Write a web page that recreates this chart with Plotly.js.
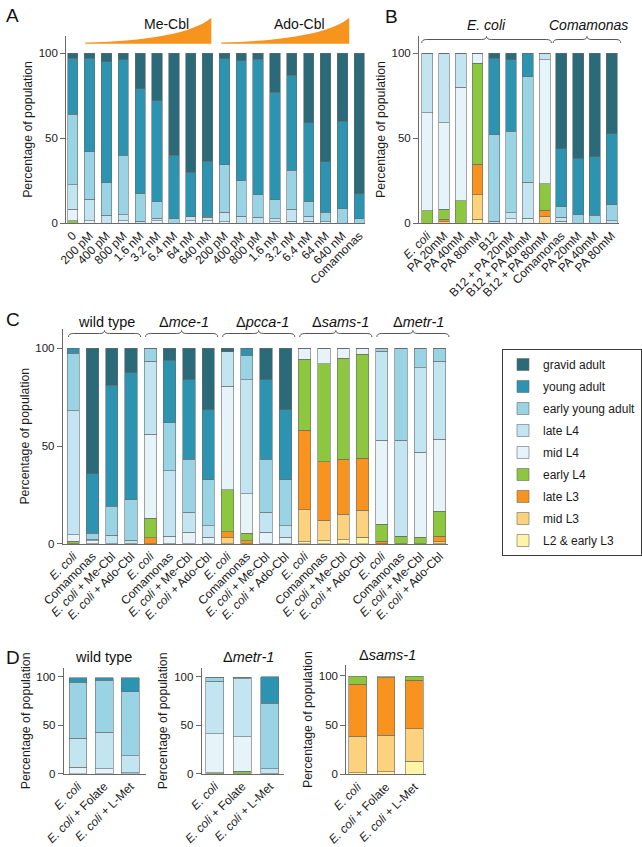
<!DOCTYPE html>
<html><head><meta charset="utf-8">
<script src="https://cdn.plot.ly/plotly-3.0.1.min.js"></script>
<style>html,body{margin:0;padding:0;background:#fff}#chart{width:642px;height:847px}</style>
</head><body><div id="chart"></div>
<script>
// ---------- stages (bottom -> top of each stack) ----------
const stages = ["L2 & early L3","mid L3","late L3","early L4","mid L4","late L4","early young adult","young adult","gravid adult"];
const stageColors = ["#fff3a6","#fdd27e","#f7931e","#8dc63f","#e6f4fa","#c3e5f2","#9ad3e4","#2c94b0","#2b6a78"];

// ---------- Panel A ----------
const A_labels = ["0","200 pM","400 pM","800 pM","1.6 nM","3.2 nM","6.4 nM","64 nM","640 nM","200 pM","400 pM","800 pM","1.6 nM","3.2 nM","6.4 nM","64 nM","640 nM","Comamonas"];
const A_earlyL4 = [1.2,0,0,0,0,0,0,0,0,0,0,0,0,0,0,0,0,0];
const A_midL4   = [6.8,1.4,0,1.2,0,1.2,0,1.4,1.4,0.8,0,0,0.6,1,1,0.8,0,0];
const A_lateL4  = [14.5,12.6,4.7,3.8,1.0,1.6,0,2.7,1.9,5.5,3.9,3.3,2.0,7.0,3.1,0,0,0];
const A_earlyYA = [41.5,28,18.9,35,16.3,9.8,2.6,0,0.8,28.1,21.1,13.2,11,23,8.3,5.5,8.3,2.6];
const A_YA      = [33,55,71.4,56,61.7,59.4,37.4,25.9,32.2,62.3,70.3,79.8,63.4,56,46.6,29.7,51.7,14.7];
const A_gravid  = [3,3,5,4,21,28,60,70,63.7,3.3,4.7,3.7,23,13,41,64,40,82.7];

// ---------- Panel B ----------
const B_labels = ["<i>E. coli</i>","PA 20mM","PA 40mM","PA 80mM","B12","B12 + PA 20mM","B12 + PA 40mM","B12 + PA 80mM","Comamonas","PA 20mM","PA 40mM","PA 80mM"];
const B_L2      = [0,0,0,2.2,0,0,0,0,0,0,0,0];
const B_midL3   = [0,0.8,0,14.3,0,0,0,4,0,0,0,0];
const B_lateL3  = [0,1.4,0,18.1,0,0,0,3.5,0,0,0,0];
const B_earlyL4 = [7.3,5.8,13.2,59.4,0,0,0,15.5,0,0,0,0];
const B_midL4   = [57.7,51,66.8,6,0,2.5,2.8,73,1,0,0,0];
const B_lateL4  = [35,41,20,0,1,3.5,21.2,4,2.5,0,0,1.2];
const B_earlyYA = [0,0,0,0,51,48,62,0,6.1,5,4.7,9.6];
const B_YA      = [0,0,0,0,45,42,14,0,34.2,33,34.3,41.7];
const B_gravid  = [0,0,0,0,3,4,0,0,56.2,62,61,47.5];

// ---------- Panel C ----------
const C_groups = ["wild type","Δ<i>mce-1</i>","Δ<i>pcca-1</i>","Δ<i>sams-1</i>","Δ<i>metr-1</i>"];
const C_conditions = ["<i>E. coli</i>","Comamonas","<i>E. coli</i> + Me-Cbl","<i>E. coli</i> + Ado-Cbl"];
const C_L2      = [0,0,0,0, 0,0,0,0, 0,0,0,0, 1.0,1.5,1.9,3.2, 0,0,0,0];
const C_midL3   = [0,0,0,0, 0,0,0,0, 3.1,0,0,0, 16.5,10.5,13.1,13.8, 0,0,0,0.9];
const C_lateL3  = [0,0,0,0, 3.1,0,0,0, 3.0,1.5,0,0, 40.5,30,28.2,26.7, 1.2,0,0,3];
const C_earlyL4 = [1.2,0,0,0, 9.9,0,0,0, 21.5,3.8,0,0, 36.4,50,51.8,53.3, 8.7,3.9,3.2,12.7];
const C_midL4   = [3.4,1.4,0,0, 43,3.9,5.8,3.2, 53,20.3,5.8,3.2, 5.6,8,5,3, 43,0,43.6,36.8];
const C_lateL4  = [63.4,1.0,4.3,1.7, 37.3,33.5,10.2,6, 17.7,58.4,10.2,6, 0,0,0,0, 45.6,49,43.2,39.9];
const C_earlyYA = [29.4,2.9,14.8,20.7, 6.7,24.6,27.3,23.6, 0,12.4,27.3,23.6, 0,0,0,0, 1.5,47.1,10,6.7];
const C_YA      = [2.6,30.5,61.9,65.1, 0,32,40.7,35.8, 0,3.6,40.7,35.8, 0,0,0,0, 0,0,0,0];
const C_gravid  = [0,64.2,19,12.5, 0,6,16,31.4, 1.7,0,16,31.4, 0,0,0,0, 0,0,0,0];

// ---------- Panel D ----------
const D_labels = ["<i>E. coli</i>","<i>E. coli</i> + Folate","<i>E. coli</i> + L-Met"];
const D_titles = ["wild type","Δ<i>metr-1</i>","Δ<i>sams-1</i>"];
const DW_midL4   = [6.5,5,1];
const DW_lateL4  = [30.3,38,17.6];
const DW_earlyYA = [57.7,53.2,65.9];
const DW_YA      = [4.5,2.8,14.5];
const DM_earlyL4 = [1.2,2.7,0];
const DM_midL4   = [39.8,35.3,0];
const DM_lateL4  = [54.2,60,5.2];
const DM_earlyYA = [4.5,1.7,67.3];
const DM_YA      = [0,0,27.5];
const DS_L2      = [1.5,2.4,13.2];
const DS_midL3   = [37,37.1,33.1];
const DS_lateL3  = [52.7,58.5,49];
const DS_earlyL4 = [8.5,1.2,4.2];

// ---------- build ----------
const C_labels = [];
C_groups.forEach(() => C_conditions.forEach(c => C_labels.push(c)));

const W = 642, H = 847;
const px = x => x / W, py = y => 1 - y / H;
const FONT = "Liberation Sans, Arial, Helvetica, sans-serif";

function traces(ax, stackMap, labels, width, showlegend) {
  const out = [];
  stages.forEach((s, i) => {
    const vals = stackMap[s];
    if (!vals) return;
    out.push({
      type: 'bar', x: labels.map((_, j) => j), y: vals,
      xaxis: 'x' + ax, yaxis: 'y' + ax,
      name: s, legendgroup: s, legendrank: 20 - i, showlegend: !!showlegend,
      width: width,
      marker: {color: stageColors[i], line: {color: '#6a6a6a', width: 0.6}},
      hoverinfo: 'skip'
    });
  });
  return out;
}

const data = [].concat(
  traces('', {"early L4":A_earlyL4,"mid L4":A_midL4,"late L4":A_lateL4,"early young adult":A_earlyYA,"young adult":A_YA,"gravid adult":A_gravid}, A_labels, 0.61, false),
  traces('2', {"L2 & early L3":B_L2,"mid L3":B_midL3,"late L3":B_lateL3,"early L4":B_earlyL4,"mid L4":B_midL4,"late L4":B_lateL4,"early young adult":B_earlyYA,"young adult":B_YA,"gravid adult":B_gravid}, B_labels, 0.65, false),
  traces('3', {"L2 & early L3":C_L2,"mid L3":C_midL3,"late L3":C_lateL3,"early L4":C_earlyL4,"mid L4":C_midL4,"late L4":C_lateL4,"early young adult":C_earlyYA,"young adult":C_YA,"gravid adult":C_gravid}, C_labels, 0.64, true),
  traces('4', {"mid L4":DW_midL4,"late L4":DW_lateL4,"early young adult":DW_earlyYA,"young adult":DW_YA}, D_labels, 0.68, false),
  traces('5', {"early L4":DM_earlyL4,"mid L4":DM_midL4,"late L4":DM_lateL4,"early young adult":DM_earlyYA,"young adult":DM_YA}, D_labels, 0.66, false),
  traces('6', {"L2 & early L3":DS_L2,"mid L3":DS_midL3,"late L3":DS_lateL3,"early L4":DS_earlyL4}, D_labels, 0.63, false)
);

const AX = '#6a6a6a';
function yax(anchor, yZero, yTop, max) {
  return {domain: [py(yZero), py(yTop)], range: [0, max], anchor: anchor,
    tickvals: [0, 50, 100], ticks: 'outside', ticklen: 5, tickcolor: AX, tickwidth: 1,
    showline: true, linecolor: AX, linewidth: 1, showgrid: false, zeroline: false,
    tickfont: {size: 11.5, color: '#1a1a1a'},
    title: {text: 'Percentage of population', font: {size: 12.3, color: '#1a1a1a'}, standoff: 3},
    fixedrange: true};
}
function xax(anchor, l, r, range, labels, fs) {
  return {domain: [px(l), px(r)], range: range, anchor: anchor,
    tickmode: 'array', tickvals: labels.map((_, i) => i), ticktext: labels, tickangle: -45,
    showline: true, linecolor: AX, linewidth: 1, showgrid: false, zeroline: false, ticks: '',
    tickfont: {size: fs, color: '#1a1a1a'}, fixedrange: true};
}

const layout = {
  width: W, height: H, margin: {l: 0, r: 0, t: 0, b: 0},
  paper_bgcolor: '#fff', plot_bgcolor: 'rgba(0,0,0,0)',
  font: {family: FONT, color: '#1a1a1a'},
  barmode: 'stack', hovermode: false, bargap: 0.3,
  xaxis:  xax('y', 66.7, 368, [-0.39, 17.35], A_labels, 12),
  yaxis:  yax('x', 223, 36, 110),
  xaxis2: xax('y2', 422.3, 624, [-0.49, 11.45], B_labels, 12),
  yaxis2: yax('x2', 223, 36, 110),
  xaxis3: xax('y3', 63.3, 452, [-0.54, 19.46], C_labels, 12),
  yaxis3: yax('x3', 543.7, 328.8, 110),
  xaxis4: xax('y4', 64.3, 146.7, [-0.54, 2.58], D_labels, 12),
  yaxis4: yax('x4', 773.7, 668, 109),
  xaxis5: xax('y5', 203.3, 286, [-0.48, 2.51], D_labels, 12),
  yaxis5: yax('x5', 773.7, 668, 109),
  xaxis6: xax('y6', 349, 429.3, [-0.4, 2.41], D_labels, 12),
  yaxis6: yax('x6', 774.3, 664.9, 111),
  legend: {x: px(506), y: py(349), xanchor: 'left', yanchor: 'top',
    bordercolor: '#3a3a3a', borderwidth: 1, bgcolor: '#fff',
    font: {size: 12, color: '#1a1a1a'}, traceorder: 'grouped', tracegroupgap: 3,
    itemclick: false, itemdoubleclick: false},
  annotations: [], shapes: []
};

function ann(text, x, y, size, extra) {
  layout.annotations.push(Object.assign({text: text, x: px(x), y: py(y), xref: 'paper', yref: 'paper',
    xanchor: 'center', yanchor: 'middle', showarrow: false, font: {size: size, color: '#111'}}, extra || {}));
}
// panel letters
ann('A', 13, 15, 19); ann('B', 395, 16, 19); ann('C', 13, 319, 19); ann('D', 13, 657, 19);
// panel A headers
ann('Me-Cbl', 168, 24, 14); ann('Ado-Cbl', 302, 24, 14);
// panel B headers
ann('<i>E. coli</i>', 490, 25, 14); ann('<i>Comamonas</i>', 592.7, 25, 14);
// panel C group headers
C_groups.forEach((g, i) => ann(g, 107.3 + i * 78.6, 321.7, 14.5));
// panel D titles
ann(D_titles[0], 104, 657.3, 14.5); ann(D_titles[1], 250, 657, 14.5); ann(D_titles[2], 390.7, 655, 14.5);

const P = (x, y) => px(x).toFixed(5) + ',' + py(y).toFixed(5);
function brace(x0, x1, yb, ym, yt) {
  const xm = (x0 + x1) / 2, r = 5;
  return 'M' + P(x0, yb) + ' Q' + P(x0, ym) + ' ' + P(x0 + r, ym) + ' L' + P(xm - r, ym) +
    ' Q' + P(xm, ym) + ' ' + P(xm, yt) + ' Q' + P(xm, ym) + ' ' + P(xm + r, ym) +
    ' L' + P(x1 - r, ym) + ' Q' + P(x1, ym) + ' ' + P(x1, yb);
}
function wedge(x0, x1, yb, yt) {
  return 'M' + P(x0, yb) + ' L' + P(x1, yb) + ' L' + P(x1, yt) +
    ' C' + P(x1 - 18, yb - 10.7) + ' ' + P(x0 + 64, yb - 2.7) + ' ' + P(x0, yb - 1.2) + ' Z';
}
function addPath(path, fill) {
  layout.shapes.push({type: 'path', xref: 'paper', yref: 'paper', path: path,
    line: {color: fill ? fill : '#555', width: fill ? 0 : 1}, fillcolor: fill || 'rgba(0,0,0,0)'});
}
addPath(wedge(86, 213, 43.7, 17.7), '#f7941d');
addPath(wedge(223, 352, 43.7, 17.7), '#f7941d');
addPath(brace(425, 555.7, 43, 39.5, 36.5));
addPath(brace(557.5, 625.7, 43, 39.5, 36.5));
C_groups.forEach((g, i) => addPath(brace(69 + i * 77.7, 141.7 + i * 77.7, 337, 333.5, 330.5)));

Plotly.newPlot('chart', data, layout, {staticPlot: true, displayModeBar: false});
</script>
</body></html>
